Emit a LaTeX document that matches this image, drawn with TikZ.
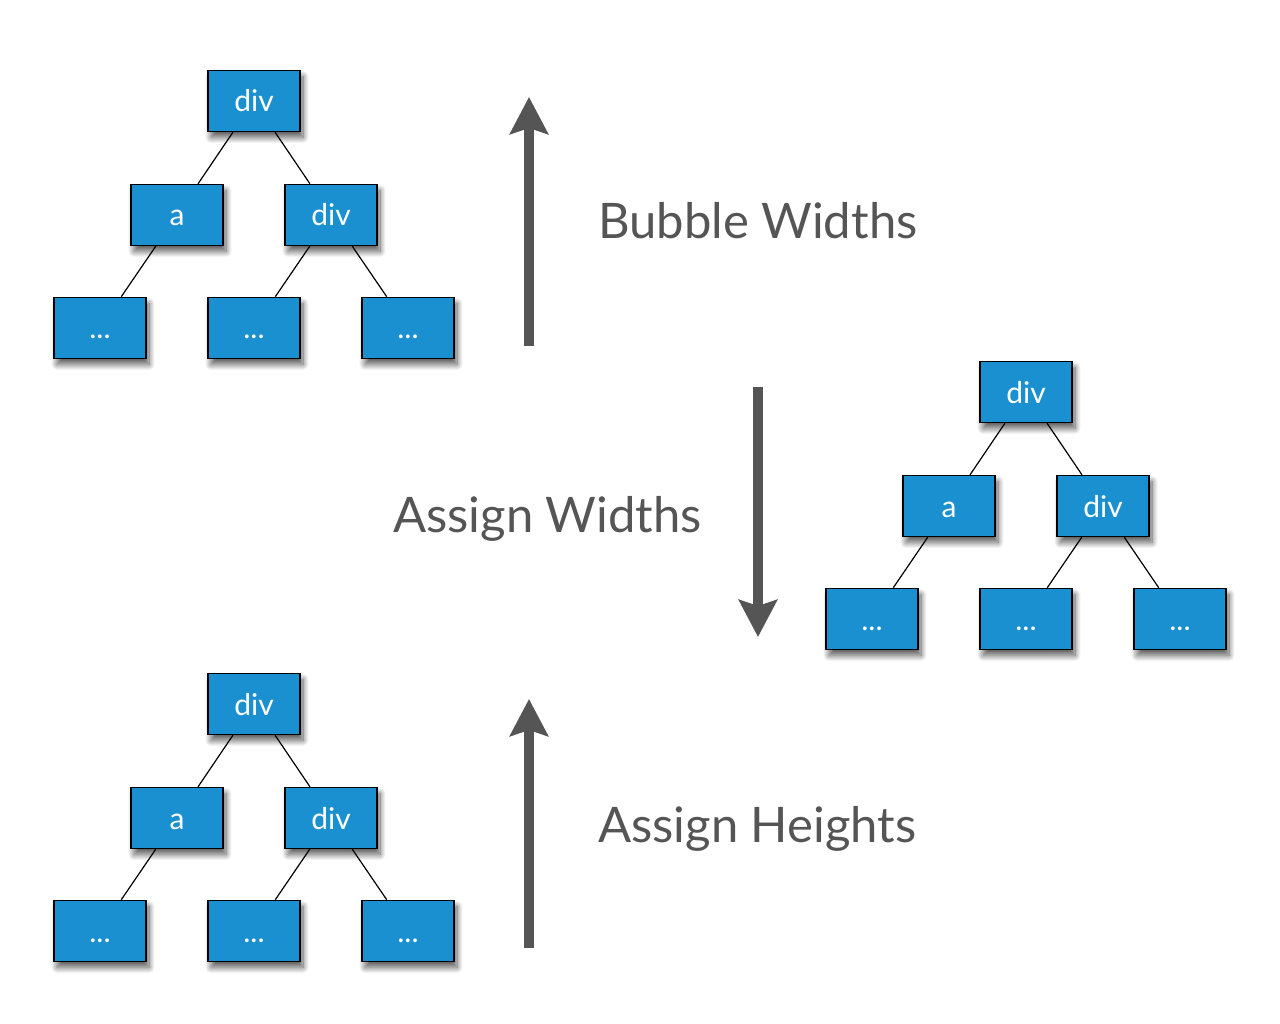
\documentclass[tikz,border=0pt]{standalone}
\usepackage{fontspec}
\setmainfont{Lato}
\usepackage{tikz}
\usetikzlibrary{arrows.meta,shadows.blur}
\definecolor{boxblue}{HTML}{1B90D0}
\definecolor{inkgray}{HTML}{555555}

\begin{document}
\begin{tikzpicture}[x=1pt,y=-1pt]
\tikzset{tag/.style = {shape=rectangle,draw=black,line width=1.5pt,fill=boxblue,minimum width=92pt,minimum height=61pt,inner sep=0pt,text=white,font=\fontsize{30}{30}\selectfont,text height=22pt,text depth=0pt,blur shadow={shadow xshift=3pt,shadow yshift=-6pt,shadow blur steps=12,shadow blur radius=6pt,shadow opacity=65}}}
\tikzset{link/.style = {line width=1.2pt, black}}
\tikzset{pass/.style = {line width=10pt, inkgray, -{Stealth[length=37pt,width=38pt,inset=6pt]}}}
\tikzset{phase/.style = {anchor=base west, inner sep=0pt, text=inkgray, font=\fontsize{49}{49}\selectfont}}
\useasboundingbox (0,0) rectangle (1280,1024);

% bubble widths tree
\node[tag] (div1) at (254,101) {div};
\node[tag] (a1) at (177,215) {a};
\node[tag] (div2) at (331,215) {div};
\node[tag] (leaf1) at (100,328) {...};
\node[tag] (leaf2) at (254,328) {...};
\node[tag] (leaf3) at (408,328) {...};

% assign widths tree
\node[tag] (div3) at (1026,392) {div};
\node[tag] (a2) at (949,506) {a};
\node[tag] (div4) at (1103,506) {div};
\node[tag] (leaf4) at (872,619) {...};
\node[tag] (leaf5) at (1026,619) {...};
\node[tag] (leaf6) at (1180,619) {...};

% assign heights tree
\node[tag] (div5) at (254,704) {div};
\node[tag] (a3) at (177,818) {a};
\node[tag] (div6) at (331,818) {div};
\node[tag] (leaf7) at (100,931) {...};
\node[tag] (leaf8) at (254,931) {...};
\node[tag] (leaf9) at (408,931) {...};

%edges
\draw[link] (div1) to (a1);
\draw[link] (div1) to (div2);
\draw[link] (a1) to (leaf1);
\draw[link] (div2) to (leaf2);
\draw[link] (div2) to (leaf3);

\draw[link] (div3) to (a2);
\draw[link] (div3) to (div4);
\draw[link] (a2) to (leaf4);
\draw[link] (div4) to (leaf5);
\draw[link] (div4) to (leaf6);

\draw[link] (div5) to (a3);
\draw[link] (div5) to (div6);
\draw[link] (a3) to (leaf7);
\draw[link] (div6) to (leaf8);
\draw[link] (div6) to (leaf9);

% passes
\coordinate (up1s) at (529,346);
\coordinate (up1e) at (529,97);
\coordinate (downs) at (758,387);
\coordinate (downe) at (758,637);
\coordinate (up2s) at (529,948);
\coordinate (up2e) at (529,699);
\draw[pass] (up1s) to (up1e);
\draw[pass] (downs) to (downe);
\draw[pass] (up2s) to (up2e);

\node[phase] (bubble) at (598,239) {Bubble Widths};
\node[phase] (widths) at (393,532) {Assign Widths};
\node[phase] (heights) at (598,842) {Assign Heights};

\end{tikzpicture}
\end{document}
